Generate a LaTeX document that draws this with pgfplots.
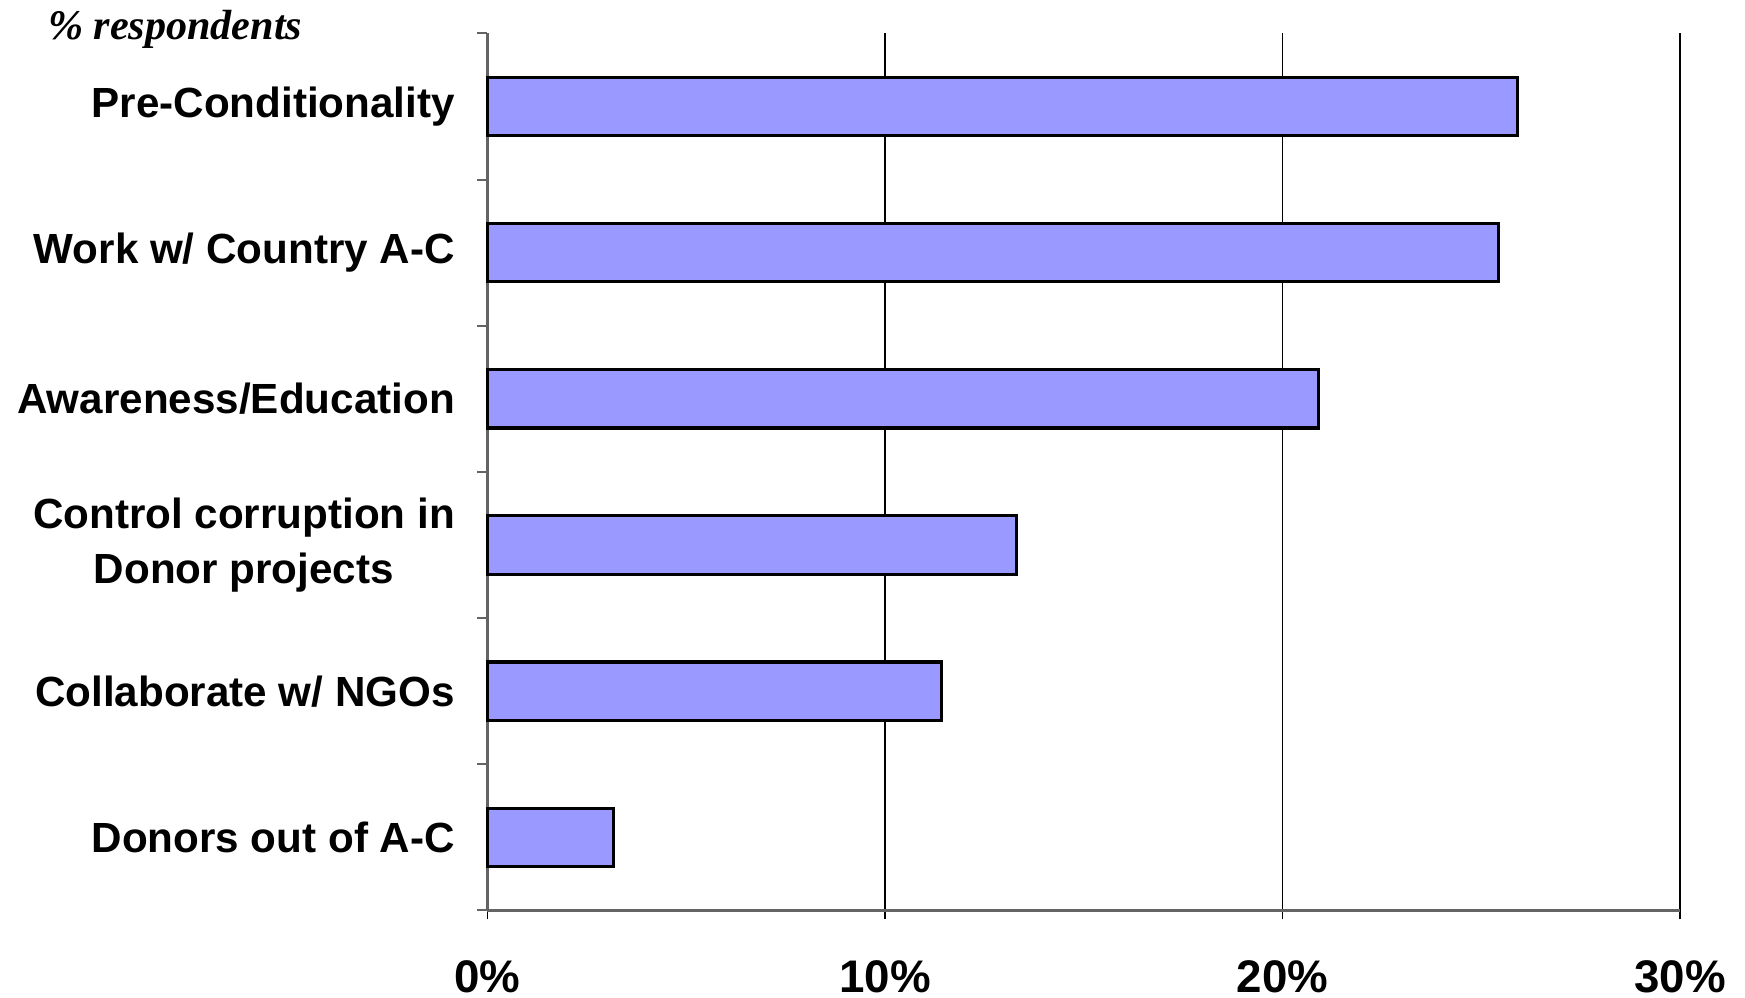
\documentclass[border=0pt]{standalone}
\usepackage{pgfplots}
\pgfplotsset{compat=1.18}
\usepackage{fontspec}
\setmainfont{Liberation Sans}
\newfontfamily\serifit{Liberation Serif}
\definecolor{barblue}{RGB}{153,153,255}
\definecolor{axgray}{RGB}{100,100,100}
\begin{document}
\begin{tikzpicture}
\path[use as bounding box] (-4.875,-0.876) rectangle (12.575,9.104);
\begin{axis}[
  xbar,
  width=11.925cm, height=8.77cm,
  scale only axis,
  xmin=0, xmax=30,
  ymin=-0.5, ymax=5.5,
  y dir=reverse,
  bar width=0.4,
  axis x line*=bottom,
  axis y line*=left,
  axis line style={axgray, line width=0.8pt},
  xtick={0,10,20,30},
  xticklabels={0\%,10\%,20\%,30\%},
  xmajorgrids,
  major x grid style={black, line width=0.4pt},
  x tick style={black, line width=0.4pt},
  major tick length=0.09cm,
  minor tick length=0.1cm,
  tick align=outside,
  ytick={0,1,2,3,4,5},
  yticklabels={Pre-Conditionality, Work w/ Country A-C, Awareness/Education, {Control corruption in\\Donor projects}, Collaborate w/ NGOs, Donors out of A-C},
  minor ytick={-0.5,0.5,1.5,2.5,3.5,4.5,5.5},
  major y tick style={draw=none},
  minor y tick style={axgray, line width=0.6pt},
  yticklabel style={font=\fontsize{12}{15.8}\selectfont\bfseries, align=center, inner sep=0pt, xshift=-0.23cm},
  xticklabel style={font=\fontsize{13}{15}\selectfont\bfseries, inner sep=0pt, yshift=-0.4cm},
  clip=false,
]
\addplot[fill=barblue, draw=black, line width=0.9pt] coordinates {
  (25.92,0) (25.43,1) (20.9,2) (13.31,3) (11.42,4) (3.18,5)
};
\node[anchor=base east, inner sep=0pt, font=\fontsize{12}{14}\selectfont\serifit\bfseries\itshape] at (rel axis cs:0,1) [xshift=-1.845cm, yshift=-0.056cm] {\% respondents};
\end{axis}
\end{tikzpicture}
\end{document}
